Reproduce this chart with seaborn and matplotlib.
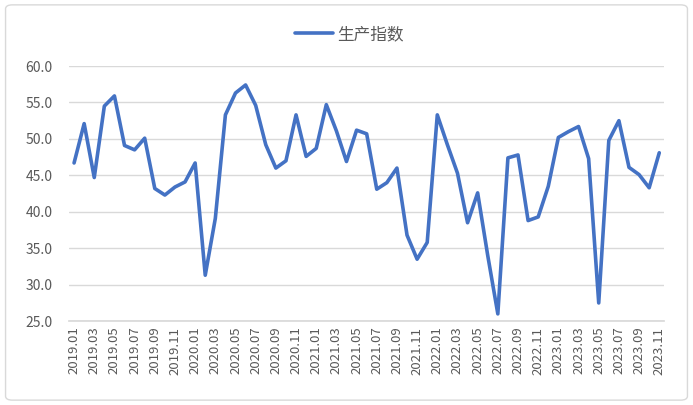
import pandas as pd
import seaborn as sns
import matplotlib.pyplot as plt
from matplotlib.patches import FancyBboxPatch

# 月份与生产指数
months = [f'{y}.{m:02d}' for y in range(2019, 2024) for m in range(1, 13)][:59]
values = [
    46.7, 52.1, 44.7, 54.5, 55.9, 49.1, 48.5, 50.1, 43.2, 42.3, 43.4, 44.1,
    46.7, 31.3, 39.1, 53.3, 56.3, 57.4, 54.6, 49.2, 46.0, 47.0, 53.3, 47.6,
    48.7, 54.7, 51.1, 46.9, 51.2, 50.7, 43.1, 44.0, 46.0, 36.8, 33.5, 35.8,
    53.3, 49.2, 45.3, 38.5, 42.6, 34.0, 26.0, 47.4, 47.8, 38.8, 39.3, 43.5,
    50.2, 51.0, 51.7, 47.3, 27.5, 49.8, 52.5, 46.1, 45.1, 43.3, 48.1,
]
series_name = '生产指数'

df = pd.DataFrame({'idx': range(len(months)), 'month': months, series_name: values})

sns.set_theme(style='white')
plt.rcParams['font.family'] = ['Noto Sans CJK SC', 'DejaVu Sans']

fig = plt.figure(figsize=(6.93, 4.05), dpi=100)
ax = fig.add_axes([0.0996, 0.207, 0.859, 0.63])

sns.lineplot(data=df, x='idx', y=series_name, ax=ax, color='#4472C4',
             linewidth=2.6, label=series_name, legend=False)

ax.set_ylim(25, 60)
ax.set_yticks([25, 30, 35, 40, 45, 50, 55, 60])
ax.set_yticklabels([f'{v:.1f}' for v in ax.get_yticks()], fontsize=10, color='#595959')
ax.set_xlim(-0.5, len(months) - 0.5)
ax.set_xticks(df['idx'][::2])
ax.set_xticklabels(df['month'][::2], rotation=90, fontsize=9.5, color='#595959')
ax.tick_params(axis='x', length=0, pad=4)
ax.tick_params(axis='y', length=0, pad=12)
ax.yaxis.grid(True, color='#D9D9D9', linewidth=1)
ax.set_axisbelow(True)
for side in ['top', 'right', 'left']:
    ax.spines[side].set_visible(False)
ax.spines['bottom'].set_color('#D9D9D9')
ax.set_xlabel('')
ax.set_ylabel('')

# 图例放在顶部居中
handles = ax.get_lines()[:1]
leg = fig.legend(handles, [series_name], loc='center', bbox_to_anchor=(0.504, 0.914),
                 frameon=False, fontsize=12, handlelength=2.3, handletextpad=0.25)
for t in leg.get_texts():
    t.set_color('#595959')

# 外框
fig.patches.append(FancyBboxPatch((0.008, 0.012), 0.984, 0.976, boxstyle='round,pad=0,rounding_size=0.01',
                                  transform=fig.transFigure, fill=False, edgecolor='#D9D9D9', linewidth=1))

plt.savefig('out.png', dpi=100)
plt.close()
